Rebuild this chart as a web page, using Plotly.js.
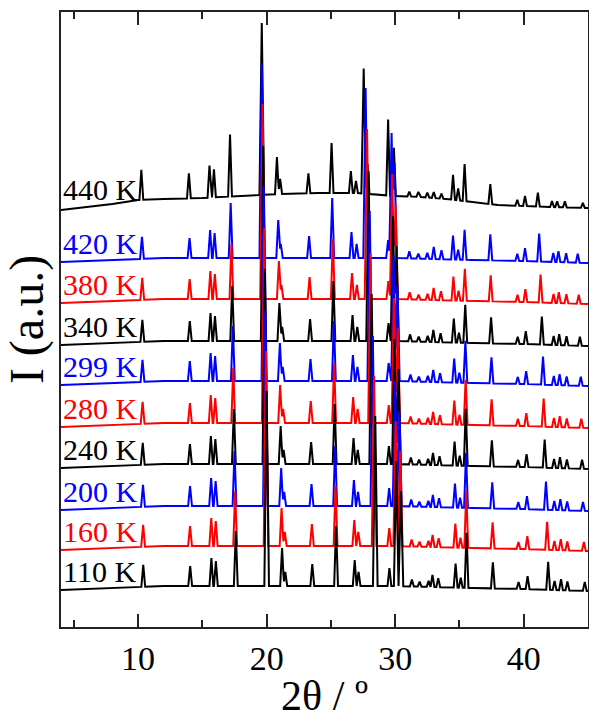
<!DOCTYPE html>
<html><head><meta charset="utf-8">
<script src="https://cdn.plot.ly/plotly-3.0.1.min.js"></script>
<style>html,body{margin:0;padding:0;background:#fff;} #chart{width:589px;height:719px;}</style>
</head><body><div id="chart"></div>
<script>
// ---- data (2θ in degrees, intensity in a.u., patterns offset vertically) ----
const seriesLabels = ["110 K","160 K","200 K","240 K","280 K","299 K","340 K","380 K","420 K","440 K"];

// vertical stacking offsets of the 110 K ... 420 K patterns
const stackOffset = [41, 81, 121, 163, 204, 246, 286, 328, 369];

// slowly varying background shared by the 110 K ... 420 K patterns
const bgTheta = [4, 8, 12, 20, 30, 36, 40, 45];
const bgLevel = [-4, -2, 0, 0, 0, -2, -3, -5];

// peak positions (2θ) for each temperature
const pos_110K = [10.40,14.05,15.70,16.05,17.60,20.00,21.20,21.45,23.55,25.40,26.85,27.15,28.45,29.55,30.08,30.45,31.30,31.90,32.60,32.90,33.35,34.70,35.10,35.55,37.60,39.60,40.30,41.90,42.40,42.90,43.40,44.75];
const pos_160K = [10.39,14.04,15.69,16.04,17.55,19.95,21.16,21.41,23.52,25.36,26.82,27.13,28.36,29.54,30.04,30.39,31.28,31.89,32.59,32.91,33.38,34.68,35.08,35.53,37.58,39.59,40.28,41.82,42.39,42.88,43.39,44.68];
const pos_200K = [10.38,14.04,15.68,16.03,17.50,19.90,21.13,21.36,23.49,25.33,26.79,27.11,28.26,29.53,29.99,30.33,31.25,31.88,32.58,32.93,33.41,34.65,35.05,35.51,37.55,39.58,40.25,41.73,42.38,42.85,43.38,44.61];
const pos_240K = [10.36,14.03,15.66,16.01,17.45,19.86,21.09,21.32,23.46,25.29,26.76,27.09,28.17,29.51,29.94,30.26,31.22,31.86,32.56,32.94,33.45,34.62,35.02,35.49,37.52,39.56,40.22,41.63,42.36,42.82,43.36,44.54];
const pos_280K = [10.35,14.03,15.65,16.00,17.40,19.81,21.05,21.28,23.43,25.25,26.73,27.08,28.08,29.50,29.90,30.20,31.20,31.85,32.55,32.95,33.48,34.60,35.00,35.48,37.50,39.55,40.20,41.55,42.35,42.80,43.35,44.48];
const pos_299K = [10.34,14.02,15.64,15.99,17.37,19.78,21.03,21.25,23.41,25.23,26.71,27.06,28.02,29.49,29.87,30.17,31.19,31.84,32.54,32.96,33.49,34.59,34.99,35.46,37.49,39.54,40.19,41.50,42.34,42.79,43.34,44.44];
const pos_340K = [10.33,14.02,15.63,15.98,17.32,19.73,20.99,21.21,23.38,25.19,26.68,27.05,27.93,29.48,29.83,30.10,31.16,31.83,32.53,32.97,33.53,34.56,34.96,35.45,37.46,39.53,40.16,41.41,42.33,42.76,43.33,44.37];
const pos_380K = [10.32,14.01,15.62,15.97,17.26,19.68,20.95,21.15,23.34,25.15,26.64,27.02,27.81,29.47,29.77,30.03,31.13,31.82,32.52,32.99,33.56,34.53,34.93,35.42,37.43,39.52,40.13,41.31,42.32,42.73,43.32,44.28];
const pos_420K = [10.30,14.00,15.60,15.95,17.20,19.62,20.90,21.10,23.30,25.10,26.60,27.00,27.70,29.45,29.72,29.95,31.10,31.80,32.50,33.00,33.60,34.50,34.90,35.40,37.40,39.50,40.10,41.20,42.30,42.70,43.30,44.20];
const pos_440K = [10.25,13.95,15.55,15.90,17.15,19.62,20.80,21.05,23.25,25.05,26.55,26.95,27.55,27.85,29.45,29.90,31.10,31.80,32.50,33.00,33.60,34.50,34.90,35.40,37.40,39.50,40.10,41.10,42.20,42.60,43.20,44.60];

// peak heights shared by 110 K ... 420 K (the peak near 35.5° is given per temperature)
const peakHeight = [22,20,28,25,55,195,38,14,22,60,26,14,170,18,125,95,7,5,6,12,9,24,10,0,26,7,13,28,9,11,9,9];
const height355 = [55,57,55,57,45,42,38,32,30];
// 440 K pattern: own peak heights and curved background
const height_440K = [30,25,32,28,62,172,37,15,20,50,22,12,125,30,76,48,5,5,5,6,5,25,12,37,20,6,10,14,6,6,6,5];
const bg440Theta = [4,6,8,10,12,15,18,21,24,27,30,32,34,36,38,40,42,45];
const bg440Level = [417,420,423,427,428,429,431,433,434,434,431,430,428,425,422,421,420,419];

const seriesPositions = [pos_110K,pos_160K,pos_200K,pos_240K,pos_280K,pos_299K,pos_340K,pos_380K,pos_420K,pos_440K];

// ---- styles ----
const seriesColors = ["#000000","#ff0000","#0000ff","#000000","#ff0000","#0000ff","#000000","#ff0000","#0000ff","#000000"];
const FONT = '"Liberation Serif","Times New Roman",Times,serif';

function interp(x, xs, ys){
  if (x <= xs[0]) return ys[0];
  for (let i=1;i<xs.length;i++){ if (x <= xs[i]) { const t=(x-xs[i-1])/(xs[i]-xs[i-1]); return ys[i-1]+t*(ys[i]-ys[i-1]); } }
  return ys[ys.length-1];
}
function buildPattern(pos, hts, bx, by){
  const set = new Set(bx);
  const halfW = hts.map(h => h > 80 ? 0.18 : 0.15);
  pos.forEach((p,i)=>{ set.add(+(p-halfW[i]).toFixed(4)); set.add(p); set.add(+(p+halfW[i]).toFixed(4)); });
  const xs = Array.from(set).sort((a,b)=>a-b);
  const ys = xs.map(x => interp(x,bx,by) + pos.reduce((s,p,i)=>{ const d=Math.abs(x-p); return s + (d<halfW[i] ? hts[i]*(1-d/halfW[i]) : 0); },0));
  return {xs, ys};
}

const traces = [];
const annotations = [];
for (let k = seriesLabels.length-1; k >= 0; k--) {
  let pat, labelBase;
  if (k === 9) {
    pat = buildPattern(pos_440K, height_440K, bg440Theta, bg440Level);
    labelBase = interp(6, bg440Theta, bg440Level);
  } else {
    const hts = peakHeight.slice(); hts[23] = height355[k];
    const by = bgLevel.map(v => v + stackOffset[k]);
    pat = buildPattern(seriesPositions[k], hts, bgTheta, by);
    labelBase = interp(6, bgTheta, by);
  }
  traces.push({x: pat.xs, y: pat.ys, type:'scatter', mode:'lines', name: seriesLabels[k],
    line:{color: seriesColors[k], width:2}, hoverinfo:'skip'});
  annotations.push({x:4.03, y:labelBase+18, xref:'x', yref:'y', xanchor:'left', yanchor:'middle',
    text: seriesLabels[k], showarrow:false, font:{family:FONT, size:30, color:seriesColors[k]}});
}

const layout = {
  width:589, height:719,
  margin:{l:61, r:1, t:12, b:92},
  paper_bgcolor:'#ffffff', plot_bgcolor:'#ffffff',
  showlegend:false,
  font:{family:FONT, color:'#000'},
  xaxis:{range:[4,45], tick0:0, dtick:10, ticks:'inside', ticklen:13, tickwidth:2, tickcolor:'#222',
    showline:true, linecolor:'#222', linewidth:2, mirror:'ticks', showgrid:false, zeroline:false,
    tickfont:{family:FONT, size:34, color:'#000'},
    minor:{ticks:'inside', ticklen:7, tickwidth:2, tick0:0, dtick:5, tickcolor:'#222', showgrid:false},
    title:{text:'2θ / º', font:{family:FONT, size:42, color:'#000'}, standoff:6}},
  yaxis:{range:[0,615], showticklabels:false, ticks:'', showline:true, mirror:true, linecolor:'#222', linewidth:2,
    showgrid:false, zeroline:false,
    title:{text:'I (a.u.)', font:{family:FONT, size:48, color:'#000'}, standoff:0}},
  annotations: annotations
};
Plotly.newPlot('chart', traces, layout, {displayModeBar:false, staticPlot:true});
</script></body></html>
